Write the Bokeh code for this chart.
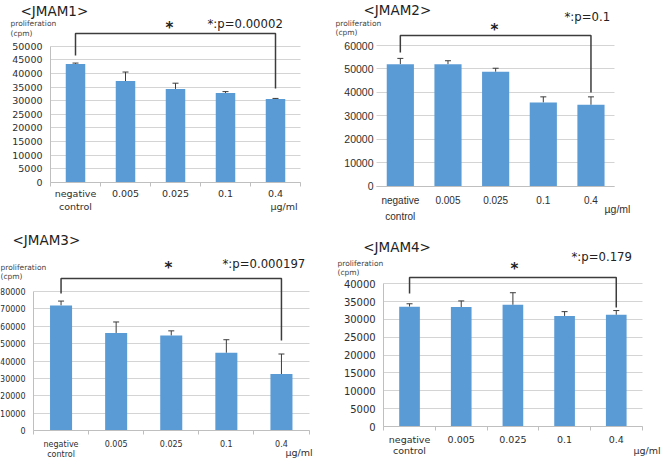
from bokeh.plotting import figure
from bokeh.models import Range1d, FixedTicker, Label, Whisker, ColumnDataSource, TeeHead
from bokeh.layouts import gridplot
from bokeh.embed import file_html
from bokeh.resources import INLINE

# ---------------- data ----------------
categories = ["negative\ncontrol", "0.005", "0.025", "0.1", "0.4"]
unit_label = "\u00b5g/ml"
y_title_1 = "proliferation"
y_title_2 = "(cpm)"

jmam1_values = [43500, 37200, 34300, 32800, 30600]
jmam1_errors = [300, 3300, 2100, 500, 200]
jmam1_ptext = "*:p=0.00002"

jmam2_values = [52000, 52000, 48800, 35700, 34700]
jmam2_errors = [2500, 1500, 1500, 2400, 3400]
jmam2_ptext = "*:p=0.1"

jmam3_values = [72000, 56200, 54700, 44800, 32600]
jmam3_errors = [2500, 6300, 2700, 7500, 11500]
jmam3_ptext = "*:p=0.000197"

jmam4_values = [33600, 33500, 34100, 31000, 31300]
jmam4_errors = [800, 1700, 3400, 1200, 1200]
jmam4_ptext = "*:p=0.179"

BAR = "#5B9BD5"
TXT = "#2e2e2e"
DARK = "#3c3c3c"
GRID = "#d4d4d4"
AXIS = "#bfbfbf"


def panel(title, vals, errs, ptxt, ymax, ystep, g):
    W, H = g["W"], g["H"]
    fl, fr, y0, ytp = g["fl"], g["fr"], g["y0"], g["ytp"]
    n = len(vals)

    def dx(px):
        return 0.5 + (px - fl) / (fr - fl) * n

    def dy(py):
        return ymax * (y0 - py) / (y0 - ytp)

    p = figure(width=W, height=H, output_backend="svg", toolbar_location=None,
               x_range=Range1d(dx(0), dx(W)), y_range=Range1d(dy(H), dy(0)),
               min_border=0, min_border_left=0, min_border_right=0,
               min_border_top=0, min_border_bottom=0)
    p.outline_line_color = None
    p.xgrid.visible = False
    xs = list(range(1, n + 1))
    yticks = list(range(0, ymax + 1, ystep))

    # bars
    p.vbar(x=xs, top=vals, width=g["bw"], fill_color=BAR, line_color=None)

    # error bars (upper only)
    src = ColumnDataSource(dict(x=xs, lower=vals, upper=[v + e for v, e in zip(vals, errs)]))
    p.add_layout(Whisker(source=src, base="x", lower="lower", upper="upper",
                         dimension="height", line_color=DARK, line_width=1,
                         lower_head=None,
                         upper_head=TeeHead(size=6, line_color=DARK, line_width=1)))

    # y axis
    yt = FixedTicker(ticks=yticks, minor_ticks=[])
    p.yaxis.ticker = yt
    p.yaxis.fixed_location = 0.5
    p.ygrid.ticker = yt
    p.ygrid.grid_line_color = GRID
    try:
        p.ygrid.cross_bounds = (0.5, n + 0.5)
        p.ygrid.bounds = (0, ymax)
    except AttributeError:
        p.ygrid.visible = False
        p.segment(x0=[0.5] * len(yticks), x1=[n + 0.5] * len(yticks), y0=yticks, y1=yticks,
                  line_color=GRID, line_width=1, level="underlay")
    p.yaxis.bounds = (0, ymax)
    p.yaxis.axis_line_color = AXIS if g["yline"] else None
    p.yaxis.major_tick_line_color = None
    p.yaxis.major_tick_out = 0
    p.yaxis.major_tick_in = 0
    p.yaxis.minor_tick_line_color = None
    p.yaxis.major_label_standoff = g["ystand"]
    p.yaxis.major_label_text_font = g["tfont"]
    p.yaxis.major_label_text_font_size = g["yfs"]
    p.yaxis.major_label_text_color = TXT

    # x axis: labels at bar centres, tick marks at category boundaries
    p.xaxis.ticker = FixedTicker(ticks=xs, minor_ticks=[i + 0.5 for i in range(n + 1)])
    p.xaxis.fixed_location = 0
    p.xaxis.bounds = (0.5, n + 0.5)
    p.xaxis.major_label_overrides = {x: c for x, c in zip(xs, categories)}
    p.xaxis.axis_line_color = AXIS
    p.xaxis.major_tick_line_color = None
    p.xaxis.major_tick_out = 0
    p.xaxis.major_tick_in = 0
    p.xaxis.minor_tick_line_color = AXIS if g["xticks"] else None
    p.xaxis.minor_tick_out = 4
    p.xaxis.minor_tick_in = 0
    p.xaxis.major_label_standoff = g["xstand"]
    p.xaxis.major_label_text_font = g["tfont"]
    p.xaxis.major_label_text_font_size = g["xfs"]
    p.xaxis.major_label_text_line_height = g["xlh"]
    p.xaxis.major_label_text_color = TXT

    # significance bracket
    p.line(x=[1, 1, n, n], y=[dy(g["blb"]), dy(g["btop"]), dy(g["btop"]), dy(g["brb"])],
           line_color=DARK, line_width=1.5)

    def lab(text, px, py, size, align="left", font="DejaVu Sans", style="normal", color=TXT):
        p.add_layout(Label(x=dx(px), y=dy(py), text=text, text_font=font,
                           text_font_size=size, text_align=align, text_baseline="middle",
                           text_color=color, text_font_style=style))

    lab("*", g["star"][0], g["star"][1], "15px", align="center", style="bold", color="#222222")
    lab(ptxt, g["pt"][0], g["pt"][1], "11.7px", color="#222222")
    lab(title, g["title"][0], g["title"][1], "13.5px", color="#222222")
    lab(y_title_1, g["prol"][0], g["prol"][1], "7.5px", color="#444444")
    lab(y_title_2, g["prol"][0], g["prol"][2], "7.5px", color="#444444")
    lab(unit_label, g["unit"][0], g["unit"][1], g["ufs"], align="left", font=g["tfont"])
    return p


g1 = dict(W=331, H=230, fl=50, fr=300, y0=181.7, ytp=45.7, bw=0.39, yline=True, xticks=True,
          ystand=8, xstand=2, tfont="DejaVu Sans", yfs="9.5px", xfs="9.5px", xlh=1.18,
          btop=33, blb=55, brb=88, star=(169, 27), pt=(207, 23.3), title=(20, 10),
          prol=(10, 23.3, 33.3), unit=(270, 206), ufs="9.5px")
g2 = dict(W=330, H=230, fl=45, fr=283.3, y0=185.7, ytp=45, bw=0.57, yline=False, xticks=False,
          ystand=3, xstand=5, tfont="Liberation Sans", yfs="10.5px", xfs="10px", xlh=1.48,
          btop=35, blb=52, brb=92, star=(163, 29), pt=(233, 16), title=(32, 9.3),
          prol=(4, 23, 32), unit=(273, 208), ufs="10.5px")
g3 = dict(W=331, H=229, fl=33, fr=308.5, y0=200.3, ytp=61, bw=0.4, yline=True, xticks=True,
          ystand=8, xstand=5, tfont="DejaVu Sans", yfs="8px", xfs="8px", xlh=1.15,
          btop=48, blb=63, brb=110, star=(168, 37), pt=(222, 33.3), title=(12, 9.3),
          prol=(0, 36.7, 45.7), unit=(285, 222), ufs="9.5px")
g4 = dict(W=330, H=229, fl=52.2, fr=310.6, y0=196, ytp=53.3, bw=0.4, yline=True, xticks=True,
          ystand=8, xstand=3, tfont="DejaVu Sans", yfs="10px", xfs="9.5px", xlh=1.06,
          btop=47, blb=63, brb=77, star=(183, 38.3), pt=(240, 26.7), title=(31.7, 16.7),
          prol=(6, 33.3, 42.3), unit=(302, 220), ufs="9.5px")

p1 = panel("<JMAM1>", jmam1_values, jmam1_errors, jmam1_ptext, 50000, 5000, g1)
p2 = panel("<JMAM2>", jmam2_values, jmam2_errors, jmam2_ptext, 60000, 10000, g2)
p3 = panel("<JMAM3>", jmam3_values, jmam3_errors, jmam3_ptext, 80000, 10000, g3)
p4 = panel("<JMAM4>", jmam4_values, jmam4_errors, jmam4_ptext, 40000, 5000, g4)

layout = gridplot([[p1, p2], [p3, p4]], toolbar_location=None)
open("out.html", "w").write(file_html(layout, INLINE))
